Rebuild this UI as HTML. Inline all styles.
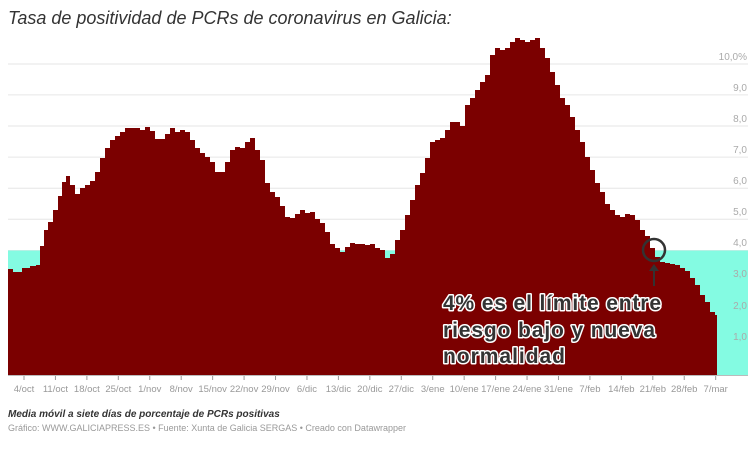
<!DOCTYPE html>
<html><head><meta charset="utf-8"><style>
body{margin:0;background:#fff;width:756px;height:447px;overflow:hidden;font-family:"Liberation Sans",sans-serif}
</style></head><body>
<svg width="756" height="447" xmlns="http://www.w3.org/2000/svg" font-family="Liberation Sans, sans-serif">
<text x="8" y="24" font-size="18" font-style="italic" fill="#333">Tasa de positividad de PCRs de coronavirus en Galicia:</text>
<g stroke="#e6e6e6" stroke-width="1">
<line x1="8" x2="748" y1="64" y2="64"/><line x1="8" x2="748" y1="94.9" y2="94.9"/><line x1="8" x2="748" y1="126" y2="126"/><line x1="8" x2="748" y1="157.1" y2="157.1"/><line x1="8" x2="748" y1="188.2" y2="188.2"/><line x1="8" x2="748" y1="219.3" y2="219.3"/><line x1="8" x2="748" y1="250.5" y2="250.5"/><line x1="8" x2="748" y1="281.6" y2="281.6"/><line x1="8" x2="748" y1="312.7" y2="312.7"/><line x1="8" x2="748" y1="343.8" y2="343.8"/>
</g>
<rect x="8" y="250.5" width="740" height="124.5" fill="#84fbe2"/>
<g fill="#aaa" font-size="10" text-anchor="end">
<text x="747" y="60">10,0%</text><text x="747" y="91">9,0</text><text x="747" y="122">8,0</text><text x="747" y="153">7,0</text><text x="747" y="184">6,0</text><text x="747" y="215">5,0</text><text x="747" y="246">4,0</text><text x="747" y="277">3,0</text><text x="747" y="309">2,0</text><text x="747" y="340">1,0</text>
</g>
<path id="area" fill="#7b0000" d=""/>
<line x1="8" x2="748" y1="375.5" y2="375.5" stroke="#bbb" stroke-width="1"/>
<g id="ticks" stroke="#999"></g>
<g id="tl" fill="#999" font-size="9.5" text-anchor="middle"></g>
<circle cx="654" cy="250" r="11" fill="none" stroke="#333" stroke-width="2.5"/>
<line x1="654" y1="286" x2="654" y2="270" stroke="#333" stroke-width="2"/>
<path d="M649,271 L654,264 L659,271 Z" fill="#333"/>
<g font-size="21" font-weight="bold" fill="#333" stroke="#fff" stroke-width="3" paint-order="stroke" stroke-linejoin="round">
<text x="443" y="310" textLength="218">4% es el límite entre</text>
<text x="443" y="337" textLength="212">riesgo bajo y nueva</text>
<text x="443" y="363" textLength="122">normalidad</text>
</g>
<text x="8" y="417" font-size="10" font-weight="bold" font-style="italic" fill="#333">Media móvil a siete días de porcentaje de PCRs positivas</text>
<text x="8" y="431" font-size="9" fill="#999">Gráfico: WWW.GALICIAPRESS.ES • Fuente: Xunta de Galicia SERGAS • Creado con Datawrapper</text>
</svg>
<script>
var p=[[8,269],[13,272],[22,268],[30,266],[36,265],[40,246],[44,230],[48,222],[53,210],[58,196],[62,182],[66,176],[70,185],[75,194],[80,188],[85,185],[90,181],[95,172],[100,158],[105,148],[110,140],[115,136],[120,132],[125,128],[130,128],[135,128],[140,130],[145,127],[150,131],[155,139],[160,139],[165,134],[170,128],[175,132],[180,130],[185,132],[190,140],[195,148],[200,153],[205,157],[210,162],[215,172],[220,172],[225,162],[230,150],[235,147],[240,148],[245,142],[250,138],[255,150],[260,160],[265,183],[270,192],[275,197],[280,206],[285,217],[290,218],[295,214],[300,210],[305,213],[310,212],[315,219],[320,223],[325,232],[330,244],[335,248],[340,252],[345,247],[350,243],[355,244],[360,244],[365,245],[370,244],[375,248],[380,250],[385,258],[390,254],[395,240],[400,230],[405,215],[410,200],[415,185],[420,173],[425,158],[430,142],[435,140],[440,138],[445,130],[450,122],[455,122],[460,126],[465,105],[470,98],[475,90],[480,82],[485,75],[490,55],[495,48],[500,50],[505,48],[510,42],[515,38],[520,40],[525,42],[530,40],[535,38],[540,48],[545,58],[550,72],[555,85],[560,98],[565,105],[570,117],[575,130],[580,142],[585,157],[590,170],[595,183],[600,192],[605,204],[610,210],[615,215],[620,217],[625,214],[630,215],[635,220],[640,230],[645,236],[650,248],[655,257],[660,262],[665,263],[670,264],[675,265],[680,268],[685,271],[690,278],[695,285],[700,295],[705,302],[710,312],[715,315]];
var d="M8,375";
for(var i=0;i<p.length;i++){var x=p[i][0],y=p[i][1],nx=i+1<p.length?p[i+1][0]:717;d+=" L"+x+","+y+" L"+nx+","+y;}
d+=" L717,375 Z";
document.getElementById("area").setAttribute("d",d);
var L="4/oct 11/oct 18/oct 25/oct 1/nov 8/nov 15/nov 22/nov 29/nov 6/dic 13/dic 20/dic 27/dic 3/ene 10/ene 17/ene 24/ene 31/ene 7/feb 14/feb 21/feb 28/feb 7/mar".split(" ");
var ns="http://www.w3.org/2000/svg",t=document.getElementById("ticks"),tl=document.getElementById("tl");
for(var j=0;j<L.length;j++){var x=24+j*31.44;
var l=document.createElementNS(ns,"line");l.setAttribute("x1",x);l.setAttribute("x2",x);l.setAttribute("y1",376);l.setAttribute("y2",380);t.appendChild(l);
var tx=document.createElementNS(ns,"text");tx.setAttribute("x",x);tx.setAttribute("y",392);tx.textContent=L[j];tl.appendChild(tx);}
</script>
</body></html>
